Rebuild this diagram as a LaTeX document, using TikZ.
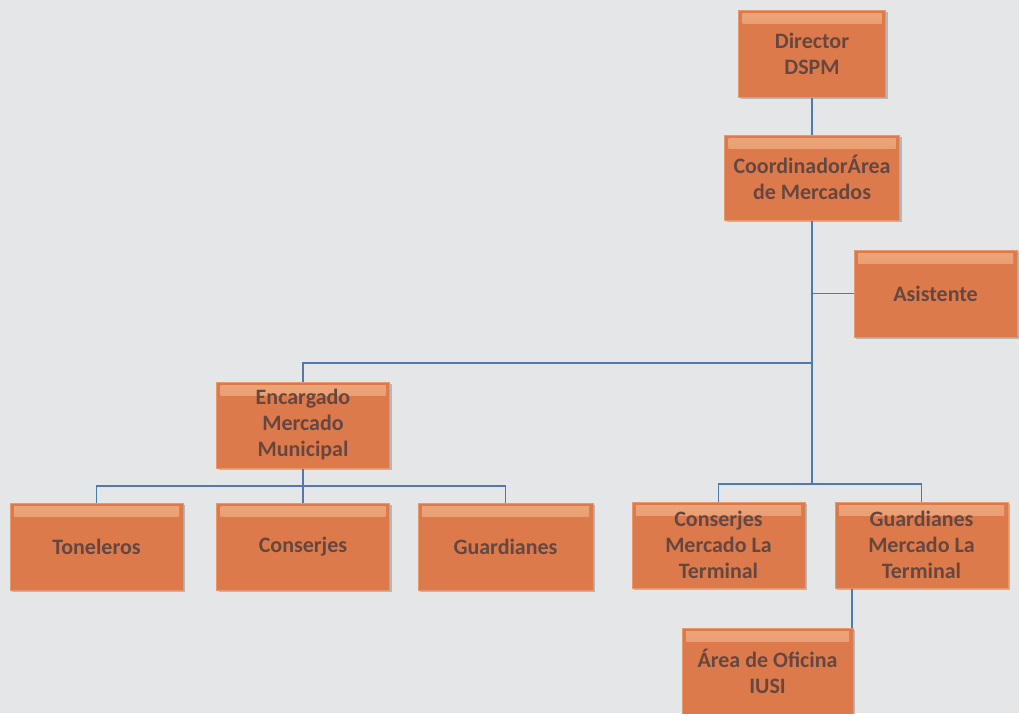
\documentclass[tikz,border=0pt]{standalone}
\usepackage{fontspec}
\setmainfont{Carlito}
\usetikzlibrary{shadows}
\definecolor{bgc}{HTML}{E4E6E7}
\definecolor{boxc}{HTML}{DD7A4C}
\definecolor{boxedge}{HTML}{E8976B}
\definecolor{boxhl}{HTML}{ECA67A}
\definecolor{txtc}{HTML}{654740}
\definecolor{linec}{HTML}{4F78B8}
\tikzset{
  orgbox/.style={draw=boxedge, line width=1pt, fill=boxc, text=txtc,
    font=\fontsize{22}{26}\selectfont\bfseries, align=center,
    inner sep=0pt, minimum width=173pt, minimum height=86pt,
    drop shadow={shadow xshift=2pt, shadow yshift=-2pt, opacity=0.2, fill=black},
    path picture={\shade[top color=boxhl, bottom color=boxc]
      ([xshift=4pt,yshift=-3pt]path picture bounding box.north west) rectangle
      ([xshift=-4pt,yshift=-13pt]path picture bounding box.north east);}},
  conn/.style={draw=linec, line width=1.5pt}
}
\begin{document}
\begin{tikzpicture}[x=1pt,y=-1pt]
\useasboundingbox (0,0) rectangle (1019,713);
\fill[bgc] (0,0) rectangle (1019,713);
\node[orgbox, minimum width=147pt, minimum height=87pt] (dir) at (812,53.5) {Director\\DSPM};
\node[orgbox, minimum width=175pt, minimum height=85pt] (coord) at (812,177.5) {CoordinadorÁrea\\de Mercados};
\node[orgbox, minimum width=163pt, minimum height=87pt] (asis) at (935.5,293.5) {Asistente};
\node[orgbox] (enc) at (303,425) {Encargado\\Mercado\\Municipal};
\node[orgbox, minimum height=87pt] (ton) at (96.5,546.5) {Toneleros};
\node[orgbox, minimum height=87pt] (con) at (303,546.5) {Conserjes};
\node[orgbox, minimum width=175pt, minimum height=87pt] (gua) at (505.5,546.5) {Guardianes};
\node[orgbox] (conT) at (718.5,545) {Conserjes\\Mercado La\\Terminal};
\node[orgbox] (guaT) at (921.5,545) {Guardianes\\Mercado La\\Terminal};
\node[orgbox, minimum width=171pt] (area) at (767.5,671) {Área de Oficina\\IUSI};
\coordinate (h1) at (812,363);
\coordinate (bl) at (303,486);
\coordinate (br) at (812,484);
\coordinate (ac) at (852,0);
\draw[conn] (dir.south) -- (coord.north);
\draw[conn] (coord.south) -- (br);
\draw[conn] (asis.west) -- (asis.west -| coord.south);
\draw[conn] (enc.north) |- (h1);
\draw[conn] (enc.south) -- (con.north);
\draw[conn] (ton.north) |- (bl) -| (gua.north);
\draw[conn] (conT.north) |- (br) -| (guaT.north);
\draw[conn] (ac |- guaT.south) -- (ac |- area.north);
\end{tikzpicture}
\end{document}
